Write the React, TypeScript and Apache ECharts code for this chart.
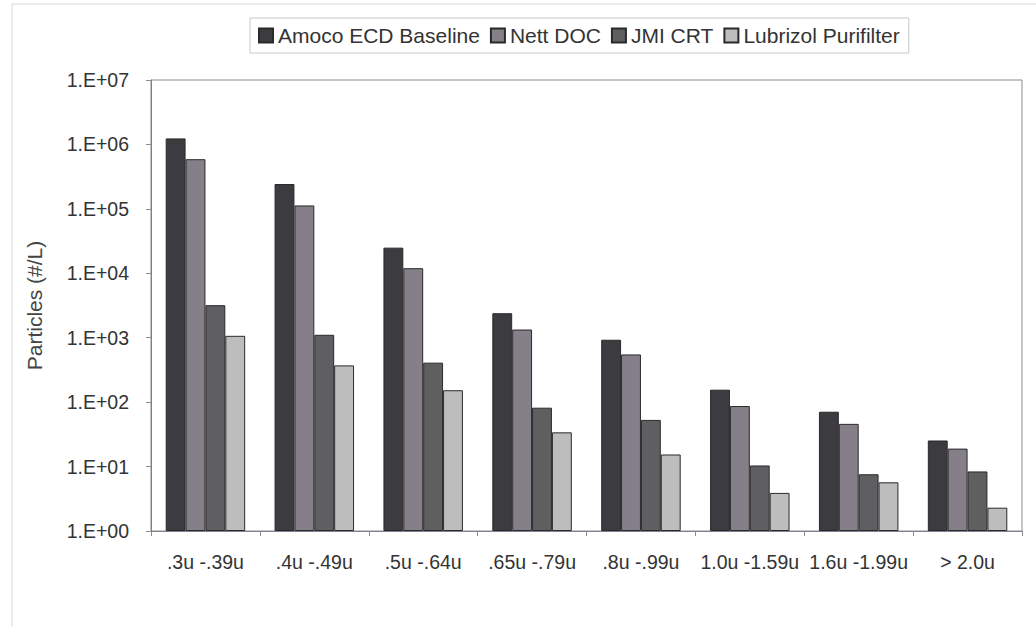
import React, { useEffect, useRef } from "react";
import * as echarts from "echarts";

const categories = [".3u -.39u", ".4u -.49u", ".5u -.64u", ".65u -.79u", ".8u -.99u", "1.0u -1.59u", "1.6u -1.99u", "> 2.0u"];
const seriesNames = ["Amoco ECD Baseline", "Nett DOC", "JMI CRT", "Lubrizol Purifilter"];
const amoco = [1240000, 243000, 25000, 2400, 930, 156, 71, 25.4];
const nett = [590000, 113000, 12000, 1340, 550, 87, 46, 19];
const jmi = [3200, 1110, 410, 82, 53, 10.4, 7.6, 8.4];
const lubrizol = [1070, 372, 153, 34, 15.4, 3.9, 5.7, 2.3];
const colors = ["#3c3c40", "#847f89", "#5f5f62", "#bdbdbd"];
const yTicks = ["1.E+00", "1.E+01", "1.E+02", "1.E+03", "1.E+04", "1.E+05", "1.E+06", "1.E+07"];

const FONT = "'Liberation Sans', Arial, sans-serif";

export default function App() {
  const ref = useRef<HTMLDivElement>(null);
  useEffect(() => {
    if (!ref.current) return;
    const chart = echarts.init(ref.current, undefined, { renderer: "svg" });
    const data = [amoco, nett, jmi, lubrizol];
    chart.setOption({
      animation: false,
      backgroundColor: "#ffffff",
      textStyle: { fontFamily: FONT },
      graphic: [
        {
          type: "rect",
          shape: { x: 12, y: 4, width: 1040, height: 640 },
          style: { fill: "none", stroke: "#d6d6d6", lineWidth: 1 },
          silent: true,
        },
      ],
      legend: {
        left: 250,
        top: 18,
        padding: [7, 9, 7, 8],
        itemGap: 10,
        itemWidth: 14,
        itemHeight: 14,
        borderColor: "#c8c8c8",
        borderWidth: 1,
        icon: "rect",
        textStyle: { fontSize: 21, color: "#333333", fontFamily: FONT },
        data: seriesNames,
      },
      grid: {
        left: 151,
        top: 80,
        width: 871,
        height: 451,
        show: true,
        borderColor: "#8c8c8c",
        borderWidth: 1,
        backgroundColor: "transparent",
      },
      xAxis: {
        type: "category",
        data: categories,
        axisLine: { show: true, lineStyle: { color: "#7f7f95", width: 1 } },
        axisTick: { show: true, alignWithLabel: false, length: 5, lineStyle: { color: "#8c8c8c" } },
        axisLabel: { fontSize: 19.5, color: "#333333", margin: 21, fontFamily: FONT, interval: 0 },
        splitLine: { show: false },
      },
      yAxis: {
        type: "log",
        logBase: 10,
        min: 1,
        max: 10000000,
        name: "Particles (#/L)",
        nameLocation: "middle",
        nameGap: 106,
        nameTextStyle: { fontSize: 21, color: "#444444", fontFamily: FONT },
        axisLine: { show: true, lineStyle: { color: "#7f7f7f", width: 1 } },
        axisTick: { show: true, length: 5, lineStyle: { color: "#8c8c8c" } },
        axisLabel: {
          fontSize: 19.5,
          color: "#333333",
          margin: 22,
          fontFamily: FONT,
          formatter: (v: number) => {
            const e = Math.round(Math.log10(v));
            return yTicks[e] ?? "";
          },
        },
        splitLine: { show: false },
      },
      series: seriesNames.map((name, i) => ({
        name,
        type: "bar",
        data: data[i],
        barGap: "0%",
        barCategoryGap: "27%",
        itemStyle: { color: colors[i], borderColor: "#2a2a2a", borderWidth: 1 },
      })),
    });
    return () => chart.dispose();
  }, []);
  return (
    <div
      ref={ref}
      style={{ position: "fixed", left: 0, top: 0, width: 1036, height: 626 }}
    />
  );
}
